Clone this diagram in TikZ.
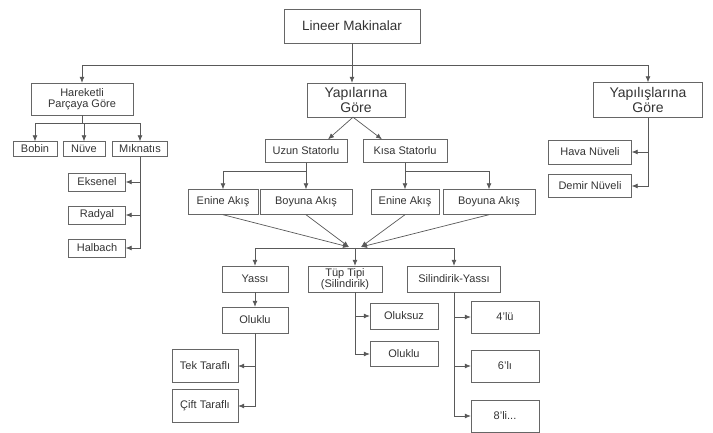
\documentclass[tikz,border=0pt]{standalone}
\usepackage{fontspec}
\setmainfont{Liberation Sans}
\usetikzlibrary{arrows.meta}
\tikzset{box/.style = {shape=rectangle,draw=black!60,text=black!80,inner sep=1pt,align=center,font=\fontsize{11}{11}\selectfont}}
\tikzset{big/.style = {box,font=\fontsize{14}{15}\selectfont}}
\tikzset{wh/.style 2 args = {minimum width=#1pt,minimum height=#2pt}}
\tikzset{edge/.style = {->,> = {Latex[length=6pt,width=5pt]},draw=black!65,line width=0.7pt}}

\begin{document}
\begin{tikzpicture}[x=1pt,y=-1pt]
  \useasboundingbox (0,0) rectangle (713,433);
  % top level
  \node[box,wh={136}{34},font=\fontsize{13.5}{14}\selectfont] (lin) at (352,26) {Lineer Makinalar};
  \node[box,wh={102}{32}] (har) at (82,99) {Hareketli\\Parçaya Göre};
  \node[big,wh={98}{34}] (yap) at (356,100) {Yapılarına\\Göre};
  \node[big,wh={109}{35}] (yps) at (648,100) {Yapılışlarına\\Göre};

  % hareketli parca
  \node[box,wh={44}{15}] (bob) at (35,149) {Bobin};
  \node[box,wh={42}{15}] (nuv) at (84,149) {Nüve};
  \node[box,wh={55}{15}] (mik) at (140,149) {Mıknatıs};
  \node[box,wh={57}{18}] (eks) at (97,182) {Eksenel};
  \node[box,wh={57}{18}] (rad) at (97,215) {Radyal};
  \node[box,wh={57}{18}] (hal) at (97,248) {Halbach};

  % yapilari
  \node[box,wh={82}{23}] (uzn) at (306,151) {Uzun Statorlu};
  \node[box,wh={84}{23}] (ksa) at (405,151) {Kısa Statorlu};
  \node[box,wh={70}{25}] (en1) at (223,202) {Enine Akış};
  \node[box,wh={92}{25}] (by1) at (306,202) {Boyuna Akış};
  \node[box,wh={68}{25}] (en2) at (405,202) {Enine Akış};
  \node[box,wh={92}{25}] (by2) at (489,202) {Boyuna Akış};

  % yapilislari
  \node[box,wh={83}{24}] (hav) at (590,152) {Hava Nüveli};
  \node[box,wh={83}{23}] (dem) at (590,186) {Demir Nüveli};

  % alt seviye
  \node[box,wh={66}{26}] (yas) at (255,279) {Yassı};
  \node[box,wh={74}{26},inner sep=0pt,font=\fontsize{11}{10}\selectfont] (tup) at (345,279) {Tüp Tipi\\(Silindirik)};
  \node[box,wh={93}{26}] (sly) at (454,279) {Silindirik-Yassı};
  \node[box,wh={66}{26}] (olu) at (255,320) {Oluklu};
  \node[box,wh={66}{33}] (tek) at (205,366) {Tek Taraflı};
  \node[box,wh={66}{33}] (cft) at (205,406) {Çift Taraflı};
  \node[box,wh={68}{26}] (oks) at (404,316) {Oluksuz};
  \node[box,wh={68}{25}] (ol2) at (404,354) {Oluklu};
  \node[box,wh={68}{32}] (d4) at (505,317) {4'lü};
  \node[box,wh={68}{32}] (d6) at (505,366) {6'lı};
  \node[box,wh={68}{32}] (d8) at (505,416) {8'li...};

  \coordinate (cl) at (349,247);
  \coordinate (cr) at (361,247);
  \coordinate (hub) at (355,248);

  \draw[edge] (lin.south) -- ++(0,22) -| (har.north);
  \draw[edge] (lin.south) -- ++(0,22) -| (yps.north);
  \draw[edge] (lin.south) -- (lin.south |- yap.north);

  \draw[edge] (har.south) -- ++(0,8) -| (bob.north);
  \draw[edge] (har.south) -- ++(0,8) -| (nuv.north);
  \draw[edge] (har.south) -- ++(0,8) -| (mik.north);
  \draw[edge] (mik.south) |- (eks.east);
  \draw[edge] (mik.south) |- (rad.east);
  \draw[edge] (mik.south) |- (hal.east);

  \draw[edge] ([xshift=-3]yap.south) -- ([xshift=22]uzn.north);
  \draw[edge] ([xshift=-3]yap.south) -- ([xshift=-23]ksa.north);
  \draw[edge] (uzn.south) -- ++(0,9) -| (en1.north);
  \draw[edge] (uzn.south) -- (by1.north);
  \draw[edge] (ksa.south) -- (en2.north);
  \draw[edge] (ksa.south) -- ++(0,9) -| (by2.north);

  \draw[edge] (yps.south) |- (hav.east);
  \draw[edge] (yps.south) |- (dem.east);

  \draw[edge] (en1.south) -- (cl);
  \draw[edge] (by1.south) -- (cl);
  \draw[edge] (en2.south) -- (cr);
  \draw[edge] (by2.south) -- (cr);
  \draw[edge] (hub) -| (yas.north);
  \draw[edge] (hub) -- (hub |- tup.north);
  \draw[edge] (hub) -| (sly.north);

  \draw[edge] (yas.south) -- (olu.north);
  \draw[edge] (olu.south) |- (tek.east);
  \draw[edge] (olu.south) |- (cft.east);
  \draw[edge] (hub |- tup.south) |- (oks.west);
  \draw[edge] (hub |- tup.south) |- (ol2.west);
  \draw[edge] (sly.south) |- (d4.west);
  \draw[edge] (sly.south) |- (d6.west);
  \draw[edge] (sly.south) |- (d8.west);
\end{tikzpicture}
\end{document}
